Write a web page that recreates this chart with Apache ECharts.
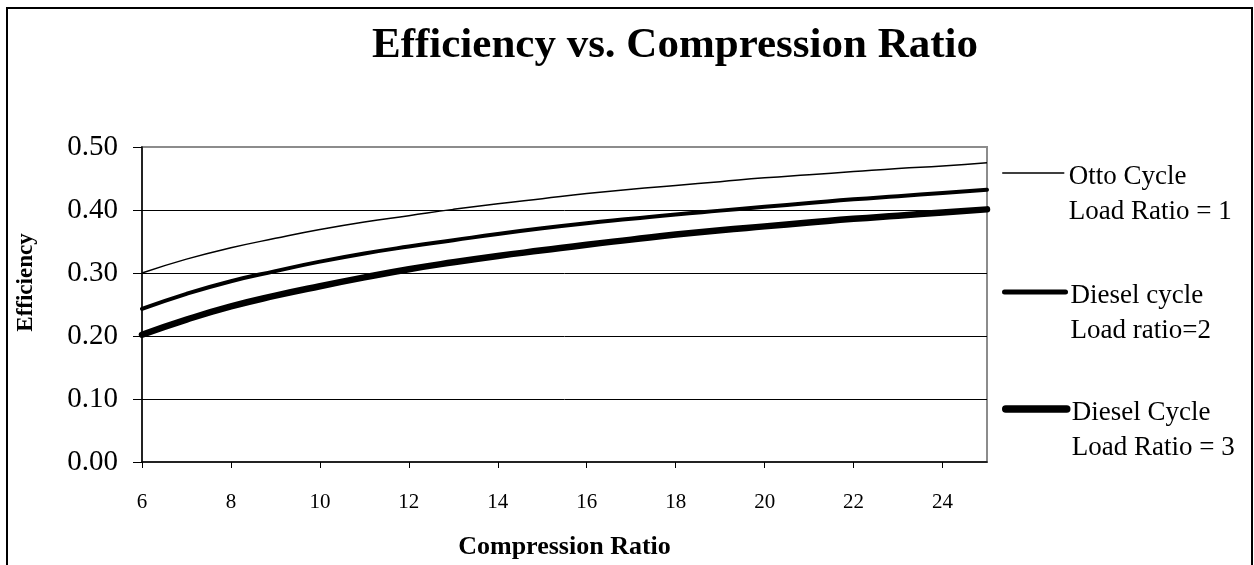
<!DOCTYPE html>
<html>
<head>
<meta charset="utf-8">
<script src="https://cdn.jsdelivr.net/npm/echarts@6/dist/echarts.min.js"></script>
<style>
html,body{margin:0;padding:0;background:#fff;}
#chart{width:1254px;height:565px;}
</style>
</head>
<body>
<div id="chart"></div>
<script>
const compressionRatio = [6,7,8,9,10,11,12,13,14,15,16,17,18,19,20,21,22,23,24,25];
const ottoLoad1 = [0.300,0.322,0.340,0.355,0.369,0.381,0.391,0.401,0.410,0.418,0.426,0.433,0.439,0.445,0.451,0.456,0.461,0.466,0.470,0.475];
const dieselLoad2 = [0.243,0.267,0.287,0.303,0.318,0.331,0.342,0.352,0.362,0.371,0.379,0.386,0.393,0.399,0.405,0.411,0.417,0.422,0.427,0.432];
const dieselLoad3 = [0.202,0.226,0.247,0.264,0.279,0.293,0.306,0.317,0.327,0.336,0.345,0.353,0.361,0.368,0.374,0.380,0.386,0.391,0.396,0.401];
const xTickLabels = [6,8,10,12,14,16,18,20,22,24];
const yTickLabels = ['0.00','0.10','0.20','0.30','0.40','0.50'];
const seriesNames = ['Otto Cycle\nLoad Ratio = 1','Diesel cycle\nLoad ratio=2','Diesel Cycle\nLoad Ratio = 3'];
const lineWidths = [1.5, 4, 6.5];
const legendLineWidths = [1.5, 5, 7.5];

const serif = '"Liberation Serif","Times New Roman",serif';
const pairs = arr => compressionRatio.map((x,i)=>[x,arr[i]]);

function legendFor(i, top){
  return {data:[seriesNames[i]], left:1002, top: top, padding:0, itemWidth:61, itemHeight:14,
          formatter: n => '{s| }\n' + n.split('\n').map(t => '{t|' + t + '}').join('\n'),
          textStyle: {fontFamily: serif, fontSize: 27, color:'#000', lineHeight: 35,
                      rich:{s:{fontSize:10, lineHeight:43}, t:{fontFamily: serif, fontSize:27, color:'#000', lineHeight:35}}},
          itemStyle: {color:'rgba(0,0,0,0)', borderWidth:0, opacity:0},
          lineStyle: {color:'#000', width: legendLineWidths[i], cap:'round', opacity:1},
          selectedMode:false};
}

const chart = echarts.init(document.getElementById('chart'));
chart.setOption({
  backgroundColor:'#fff',
  animation:false,
  title:{text:'Efficiency vs. Compression Ratio', left:367, top:19,
         textStyle:{fontFamily:serif, fontWeight:'bold', fontSize:43, color:'#000'}},
  graphic:[{type:'rect', shape:{x:7,y:8,width:1245,height:600},
            style:{fill:null, stroke:'#000', lineWidth:2}, silent:true, z:-1}],
  legend:[legendFor(0,116.5), legendFor(1,235.5), legendFor(2,352.5)],
  grid:{left:142, right:267, top:147, bottom:103, show:true, borderColor:'#8c8c8c', borderWidth:2, backgroundColor:'#fff'},
  xAxis:{type:'value', min:6, max:25, interval:2,
    name:'Compression Ratio', nameLocation:'middle', nameGap:72,
    nameTextStyle:{fontFamily:serif, fontWeight:'bold', fontSize:26, color:'#000'},
    axisLine:{show:true, lineStyle:{color:'#000', width:1.5}},
    axisTick:{show:true, inside:false, length:6, lineStyle:{color:'#000'}, customValues:xTickLabels},
    axisLabel:{fontFamily:serif, fontSize:21, color:'#000', margin:30, customValues:xTickLabels},
    splitLine:{show:false}},
  yAxis:{type:'value', min:0, max:0.5, interval:0.1,
    name:'Efficiency', nameLocation:'middle', nameGap:104, nameRotate:90,
    nameTextStyle:{fontFamily:serif, fontWeight:'bold', fontSize:23, color:'#000', padding:[0,0,0,44]},
    axisLine:{show:true, lineStyle:{color:'#000', width:1.5}},
    axisTick:{show:true, inside:false, length:9, lineStyle:{color:'#000'}},
    axisLabel:{fontFamily:serif, fontSize:29, color:'#000', margin:24,
               formatter:(v)=>yTickLabels[Math.round(v*10)]},
    splitLine:{show:true, showMinLine:false, showMaxLine:false, lineStyle:{color:'#000', width:1}}},
  series:[
    {name:seriesNames[0], type:'line', data:pairs(ottoLoad1), showSymbol:false, symbol:'none', smooth:true,
     lineStyle:{color:'#000', width:lineWidths[0]}, itemStyle:{color:'#000'}},
    {name:seriesNames[1], type:'line', data:pairs(dieselLoad2), showSymbol:false, symbol:'none', smooth:true,
     lineStyle:{color:'#000', width:lineWidths[1], cap:'round'}, itemStyle:{color:'#000'}},
    {name:seriesNames[2], type:'line', data:pairs(dieselLoad3), showSymbol:false, symbol:'none', smooth:true,
     lineStyle:{color:'#000', width:lineWidths[2], cap:'round'}, itemStyle:{color:'#000'}}
  ]
});
</script>
</body>
</html>
